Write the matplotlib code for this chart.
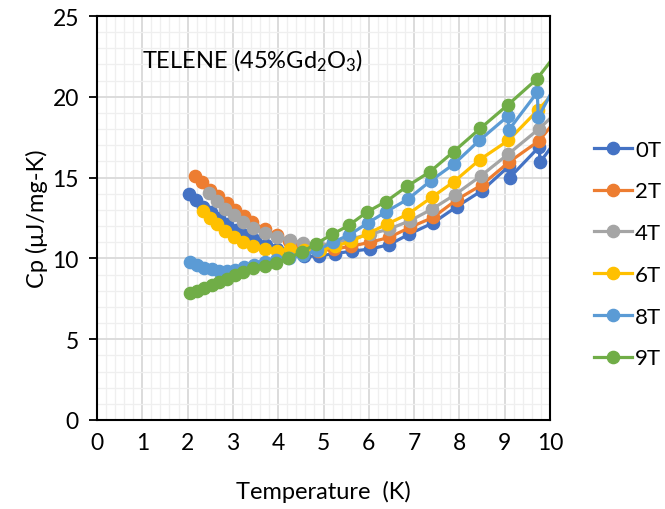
import matplotlib
matplotlib.use('Agg')  # no display
import matplotlib.pyplot as plt
from matplotlib.ticker import MultipleLocator

plt.rcParams['font.family'] = ['Lato', 'DejaVu Sans']
plt.rcParams['mathtext.default'] = 'regular'

# Specific heat data (T in K, Cp in uJ/mg-K)
t_0T = [2.04, 2.19, 2.35, 2.52, 2.69, 2.88, 3.07, 3.27, 3.48, 3.72, 3.98, 4.26, 4.57, 4.90,
        5.26, 5.63, 6.03, 6.45, 6.89, 7.42, 7.94, 8.50, 9.09, 9.11, 9.76, 9.78, 10.4]
cp_0T = [13.99, 13.60, 13.20, 12.85, 12.48, 12.10, 11.75, 11.45, 11.15, 10.85, 10.60, 10.35, 10.12, 10.15,
         10.30, 10.45, 10.58, 10.85, 11.50, 12.20, 13.20, 14.20, 15.70, 15.00, 16.90, 15.95, 18.30]

t_2T = [2.16, 2.32, 2.49, 2.67, 2.86, 3.05, 3.24, 3.43, 3.70, 3.97, 4.24, 4.53, 4.87, 5.23,
        5.61, 6.03, 6.45, 6.91, 7.42, 7.94, 8.49, 9.09, 9.76, 10.4]
cp_2T = [15.08, 14.75, 14.25, 13.86, 13.45, 13.00, 12.60, 12.25, 11.80, 11.42, 11.10, 10.80, 10.45, 10.58,
         10.75, 11.00, 11.30, 11.92, 12.54, 13.63, 14.54, 15.95, 17.28, 19.50]

t_4T = [2.47, 2.64, 2.83, 3.02, 3.23, 3.45, 3.71, 3.98, 4.25, 4.55, 4.88, 5.22, 5.59, 6.03,
        6.45, 6.91, 7.40, 7.90, 8.48, 9.08, 9.75, 10.4]
cp_4T = [14.05, 13.55, 13.08, 12.66, 12.28, 11.88, 11.56, 11.31, 11.15, 10.95, 10.80, 10.95, 11.20, 11.50,
         11.82, 12.33, 13.06, 13.94, 15.12, 16.46, 18.00, 19.70]

t_6T = [2.34, 2.49, 2.66, 2.83, 3.02, 3.23, 3.45, 3.71, 3.98, 4.27, 4.58, 4.92, 5.25, 5.60,
        5.99, 6.41, 6.87, 7.39, 7.88, 8.45, 9.08, 9.74, 10.4]
cp_6T = [12.92, 12.52, 12.10, 11.70, 11.35, 11.03, 10.77, 10.56, 10.48, 10.58, 10.50, 10.50, 10.75, 11.05,
         11.55, 12.13, 12.75, 13.78, 14.75, 16.11, 17.30, 19.20, 21.20]

t_8T = [2.05, 2.21, 2.37, 2.54, 2.70, 2.87, 3.05, 3.25, 3.46, 3.71, 3.96, 4.24, 4.55, 4.86,
        5.20, 5.57, 5.98, 6.39, 6.87, 7.37, 7.88, 8.44, 9.07, 9.09, 9.72, 9.74, 10.4]
cp_8T = [9.78, 9.57, 9.42, 9.32, 9.24, 9.22, 9.30, 9.45, 9.60, 9.76, 9.92, 10.02, 10.19, 10.50,
         11.00, 11.45, 12.20, 12.90, 13.68, 14.81, 15.84, 17.30, 18.80, 17.95, 20.28, 18.73, 22.20]

t_9T = [2.05, 2.20, 2.36, 2.53, 2.70, 2.86, 3.05, 3.23, 3.45, 3.71, 3.96, 4.22, 4.52, 4.84,
        5.19, 5.56, 5.96, 6.38, 6.85, 7.35, 7.87, 8.46, 9.07, 9.71, 10.4]
cp_9T = [7.86, 8.00, 8.17, 8.35, 8.52, 8.75, 8.97, 9.16, 9.38, 9.55, 9.72, 10.02, 10.38, 10.92,
         11.48, 12.05, 12.87, 13.52, 14.47, 15.36, 16.60, 18.04, 19.50, 21.10, 23.60]

labels = ['0T', '2T', '4T', '6T', '8T', '9T']
colors = ['#4472C4', '#ED7D31', '#A5A5A5', '#FFC000', '#5B9BD5', '#70AD47']

series = [(t_0T, cp_0T), (t_2T, cp_2T), (t_4T, cp_4T),
          (t_6T, cp_6T), (t_8T, cp_8T), (t_9T, cp_9T)]

fig = plt.figure(figsize=(6.65, 5.10), dpi=100)
ax = fig.add_axes([97 / 665, 1 - 421 / 510, 453 / 665, 404 / 510])

for (t, cp), lab, col in zip(series, labels, colors):
    ax.plot(t, cp, color=col, lw=2.3, marker='o', markersize=8.8,
            label=lab, clip_on=True)

ax.set_xlim(0, 10)
ax.set_ylim(0, 25)
ax.xaxis.set_major_locator(MultipleLocator(1))
ax.xaxis.set_minor_locator(MultipleLocator(0.2))
ax.yaxis.set_major_locator(MultipleLocator(5))
ax.yaxis.set_minor_locator(MultipleLocator(1))

ax.grid(True, which='major', color='#d9d9d9', lw=1.3)
ax.grid(True, which='minor', color='#efefef', lw=0.9)
ax.set_axisbelow(True)

for s in ax.spines.values():
    s.set_color('black')
    s.set_linewidth(1.5)

ax.tick_params(axis='both', which='major', labelsize=16.5, direction='out',
               length=6, width=1.3, color='black', pad=7)
ax.tick_params(axis='x', which='major', length=0, pad=9)
ax.tick_params(which='minor', length=0)

ax.set_xlabel('Temperature  (K)', fontsize=17, labelpad=19)
ax.set_ylabel('Cp (\u03bcJ/mg-K)', fontsize=17, labelpad=3)

ax.text(1.0, 22.3, 'TELENE (45%Gd$_2$O$_3$)', fontsize=17, va='center', ha='left')

fig.legend(loc='center left', bbox_to_anchor=(0.88, 0.5), frameon=False,
           fontsize=16, handlelength=1.7, handletextpad=0.15,
           labelspacing=0.98, borderaxespad=0)

plt.savefig('out.png', dpi=100)
plt.close()
